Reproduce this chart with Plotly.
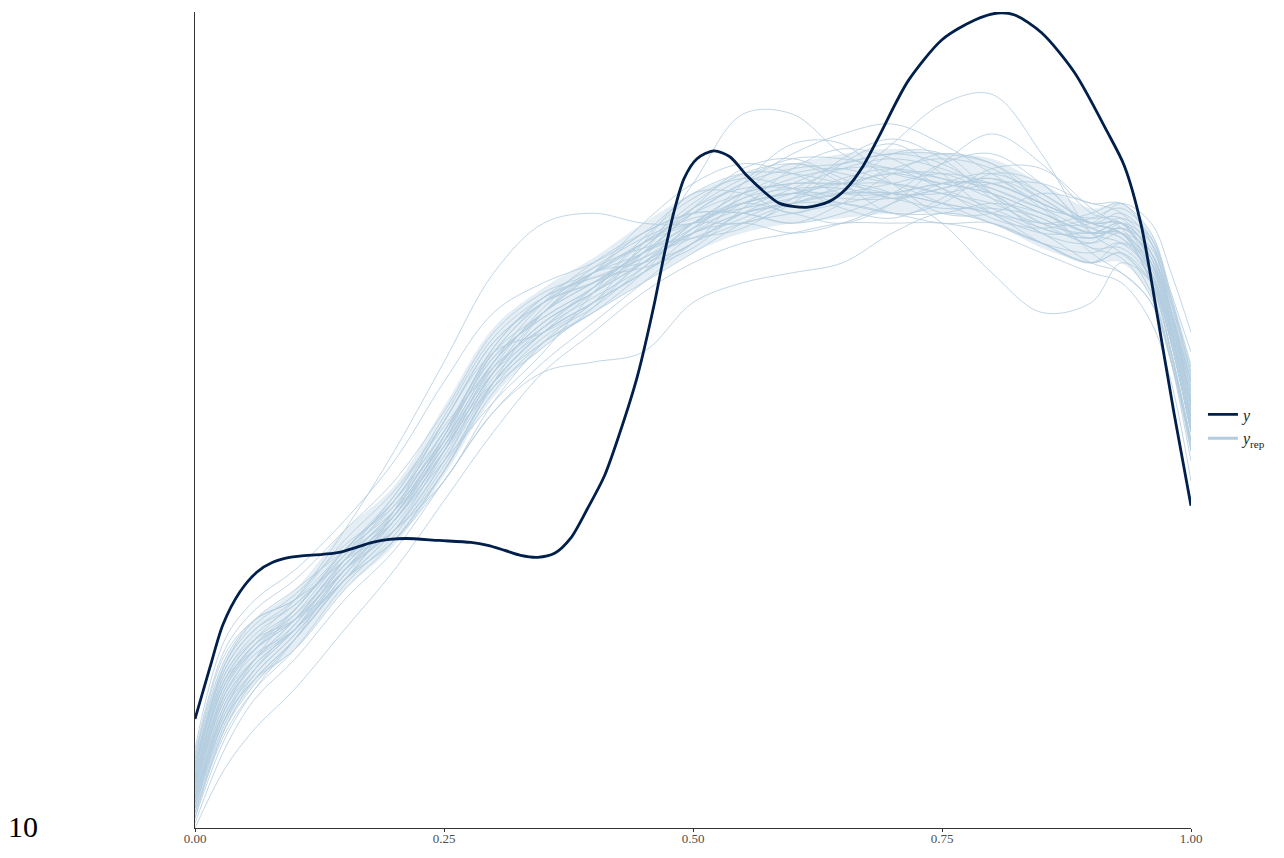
import plotly.graph_objects as go

# x knots (fraction of range) at which densities were read
x_knots = [0, .03, .06, .10, .15, .20, .25, .30, .35, .40, .45, .50, .55, .60,
           .65, .70, .75, .80, .85, .90, .93, .96, .98, 1.0]

# observed y density curve
y_x = [0.000, 0.015, 0.028, 0.045, 0.062, 0.078, 0.095, 0.128, 0.145, 0.162, 0.178,
       0.195, 0.212, 0.245, 0.277, 0.294, 0.311, 0.327, 0.344, 0.361, 0.377, 0.394,
       0.411, 0.426, 0.444, 0.461, 0.471, 0.481, 0.491, 0.504, 0.521, 0.537, 0.554,
       0.571, 0.587, 0.614, 0.637, 0.654, 0.671, 0.687, 0.704, 0.717, 0.750, 0.783,
       0.806, 0.823, 0.850, 0.883, 0.916, 0.933, 0.950, 0.966, 0.983, 1.000]
y_d = [0.220, 0.324, 0.410, 0.476, 0.516, 0.536, 0.546, 0.552, 0.556, 0.566, 0.576,
       0.582, 0.584, 0.580, 0.576, 0.570, 0.560, 0.550, 0.546, 0.554, 0.584, 0.644,
       0.710, 0.794, 0.910, 1.056, 1.156, 1.244, 1.310, 1.350, 1.366, 1.354, 1.316,
       1.284, 1.260, 1.252, 1.264, 1.290, 1.336, 1.396, 1.464, 1.510, 1.590, 1.630,
       1.644, 1.640, 1.604, 1.524, 1.404, 1.336, 1.216, 1.036, 0.836, 0.650]

# dense core of the replicated curves (lower / upper), at x_knots
core_lo = [0.03, 0.20, 0.29, 0.36, 0.48, 0.57, 0.71, 0.87, 0.97, 1.04, 1.10, 1.16, 1.20, 1.22,
           1.23, 1.24, 1.24, 1.22, 1.17, 1.14, 1.14, 1.07, 0.94, 0.76]
core_hi = [0.15, 0.34, 0.42, 0.48, 0.60, 0.69, 0.85, 1.01, 1.09, 1.15, 1.22, 1.28, 1.32, 1.34,
           1.36, 1.37, 1.36, 1.35, 1.30, 1.25, 1.26, 1.20, 1.08, 0.94]

# replicated density curves (y_rep), values at x_knots
yrep_1 = [0.02, 0.20, 0.30, 0.38, 0.50, 0.62, 0.76, 0.92, 1.02, 1.08, 1.14, 1.22, 1.28, 1.32, 1.33, 1.30, 1.26, 1.22, 1.18, 1.16, 1.18, 1.12, 0.98, 0.80]
yrep_2 = [0.12, 0.33, 0.42, 0.48, 0.56, 0.64, 0.76, 0.90, 1.00, 1.08, 1.16, 1.24, 1.30, 1.33, 1.34, 1.36, 1.34, 1.28, 1.22, 1.20, 1.22, 1.16, 1.04, 0.88]
yrep_3 = [0.06, 0.24, 0.33, 0.40, 0.52, 0.60, 0.70, 0.86, 0.98, 1.06, 1.14, 1.20, 1.22, 1.20, 1.22, 1.26, 1.30, 1.32, 1.28, 1.22, 1.20, 1.10, 0.96, 0.78]
yrep_4 = [0.15, 0.36, 0.44, 0.50, 0.60, 0.70, 0.84, 1.00, 1.08, 1.12, 1.18, 1.26, 1.32, 1.34, 1.32, 1.30, 1.28, 1.26, 1.22, 1.24, 1.26, 1.18, 1.06, 0.92]
yrep_5 = [0.04, 0.22, 0.30, 0.36, 0.48, 0.58, 0.72, 0.88, 0.98, 1.04, 1.10, 1.16, 1.22, 1.26, 1.28, 1.28, 1.26, 1.24, 1.20, 1.14, 1.12, 1.06, 0.94, 0.76]
yrep_6 = [0.10, 0.30, 0.38, 0.44, 0.56, 0.66, 0.82, 0.98, 1.06, 1.10, 1.16, 1.24, 1.30, 1.36, 1.40, 1.42, 1.38, 1.32, 1.26, 1.22, 1.20, 1.12, 1.00, 0.84]
yrep_7 = [0.08, 0.27, 0.35, 0.40, 0.52, 0.64, 0.80, 0.96, 1.04, 1.12, 1.20, 1.24, 1.24, 1.22, 1.24, 1.28, 1.34, 1.36, 1.30, 1.22, 1.24, 1.18, 1.04, 0.86]
yrep_8 = [0.01, 0.16, 0.26, 0.34, 0.46, 0.56, 0.70, 0.84, 0.94, 1.02, 1.10, 1.18, 1.24, 1.26, 1.26, 1.24, 1.22, 1.22, 1.18, 1.14, 1.16, 1.08, 0.94, 0.74]
yrep_9 = [0.14, 0.34, 0.42, 0.46, 0.56, 0.66, 0.80, 0.94, 1.04, 1.12, 1.22, 1.30, 1.34, 1.32, 1.28, 1.28, 1.30, 1.30, 1.26, 1.22, 1.22, 1.16, 1.04, 0.90]
yrep_10 = [0.07, 0.26, 0.34, 0.42, 0.54, 0.62, 0.76, 0.92, 1.02, 1.08, 1.14, 1.20, 1.26, 1.30, 1.34, 1.36, 1.36, 1.34, 1.28, 1.22, 1.20, 1.14, 1.02, 0.84]
yrep_11 = [0.11, 0.30, 0.36, 0.42, 0.52, 0.60, 0.74, 0.92, 1.04, 1.12, 1.18, 1.22, 1.26, 1.28, 1.30, 1.32, 1.32, 1.28, 1.22, 1.18, 1.20, 1.16, 1.04, 0.86]
yrep_12 = [0.05, 0.23, 0.32, 0.40, 0.54, 0.66, 0.80, 0.96, 1.06, 1.10, 1.14, 1.20, 1.24, 1.26, 1.28, 1.30, 1.32, 1.30, 1.26, 1.22, 1.22, 1.12, 0.98, 0.80]
yrep_13 = [0.09, 0.29, 0.37, 0.42, 0.52, 0.62, 0.78, 0.96, 1.06, 1.12, 1.16, 1.22, 1.28, 1.30, 1.30, 1.30, 1.28, 1.24, 1.18, 1.14, 1.18, 1.14, 1.02, 0.86]
yrep_14 = [0.13, 0.32, 0.40, 0.46, 0.58, 0.68, 0.82, 0.98, 1.06, 1.12, 1.18, 1.24, 1.28, 1.30, 1.30, 1.32, 1.30, 1.28, 1.24, 1.20, 1.22, 1.16, 1.04, 0.88]
yrep_15 = [0.03, 0.20, 0.29, 0.38, 0.50, 0.58, 0.72, 0.90, 1.00, 1.06, 1.12, 1.18, 1.22, 1.24, 1.26, 1.28, 1.30, 1.30, 1.26, 1.22, 1.22, 1.14, 1.00, 0.82]
yrep_16 = [0.10, 0.29, 0.36, 0.43, 0.55, 0.65, 0.79, 0.95, 1.03, 1.09, 1.17, 1.25, 1.29, 1.29, 1.27, 1.27, 1.29, 1.31, 1.27, 1.21, 1.19, 1.13, 1.01, 0.83]
yrep_17 = [0.04, 0.21, 0.31, 0.39, 0.51, 0.61, 0.75, 0.91, 1.01, 1.09, 1.15, 1.19, 1.23, 1.27, 1.31, 1.33, 1.31, 1.27, 1.23, 1.19, 1.21, 1.15, 1.01, 0.81]
yrep_18 = [0.12, 0.31, 0.39, 0.45, 0.55, 0.63, 0.77, 0.93, 1.05, 1.13, 1.19, 1.23, 1.25, 1.27, 1.29, 1.33, 1.35, 1.33, 1.27, 1.21, 1.19, 1.11, 0.99, 0.83]
yrep_19 = [0.06, 0.25, 0.34, 0.41, 0.53, 0.63, 0.77, 0.93, 1.01, 1.07, 1.13, 1.21, 1.27, 1.31, 1.33, 1.33, 1.29, 1.25, 1.21, 1.19, 1.21, 1.17, 1.05, 0.89]
yrep_20 = [0.08, 0.28, 0.37, 0.44, 0.56, 0.67, 0.83, 0.99, 1.07, 1.11, 1.15, 1.21, 1.25, 1.29, 1.33, 1.35, 1.33, 1.29, 1.25, 1.23, 1.23, 1.15, 1.03, 0.85]
yrep_21 = [0.03, 0.19, 0.28, 0.36, 0.49, 0.59, 0.73, 0.89, 0.99, 1.05, 1.13, 1.21, 1.27, 1.29, 1.29, 1.27, 1.25, 1.25, 1.23, 1.17, 1.15, 1.07, 0.95, 0.77]
yrep_22 = [0.13, 0.33, 0.41, 0.47, 0.57, 0.65, 0.79, 0.95, 1.03, 1.09, 1.17, 1.25, 1.31, 1.35, 1.35, 1.33, 1.31, 1.29, 1.25, 1.21, 1.23, 1.19, 1.07, 0.93]
yrep_23 = [0.10, 0.30, 0.38, 0.46, 0.60, 0.76, 0.94, 1.12, 1.22, 1.24, 1.22, 1.22, 1.26, 1.28, 1.26, 1.24, 1.24, 1.26, 1.24, 1.20, 1.20, 1.14, 1.02, 0.86]
yrep_24 = [0.06, 0.24, 0.32, 0.40, 0.52, 0.62, 0.76, 0.92, 1.02, 1.08, 1.16, 1.30, 1.44, 1.44, 1.36, 1.32, 1.30, 1.28, 1.24, 1.20, 1.20, 1.12, 0.98, 0.80]
yrep_25 = [0.09, 0.28, 0.36, 0.42, 0.54, 0.64, 0.78, 0.94, 1.04, 1.10, 1.16, 1.20, 1.24, 1.26, 1.30, 1.38, 1.46, 1.48, 1.36, 1.20, 1.16, 1.10, 0.98, 0.80]
yrep_26 = [0.05, 0.22, 0.30, 0.38, 0.50, 0.60, 0.74, 0.90, 1.00, 1.06, 1.12, 1.18, 1.24, 1.28, 1.30, 1.28, 1.22, 1.12, 1.04, 1.06, 1.14, 1.10, 0.98, 0.80]
yrep_27 = [0.07, 0.25, 0.33, 0.40, 0.50, 0.58, 0.70, 0.84, 0.92, 0.94, 0.96, 1.06, 1.10, 1.12, 1.14, 1.20, 1.24, 1.22, 1.18, 1.14, 1.16, 1.10, 0.96, 0.78]
yrep_28 = [0.00, 0.12, 0.20, 0.28, 0.40, 0.52, 0.66, 0.80, 0.92, 1.00, 1.08, 1.14, 1.18, 1.20, 1.22, 1.22, 1.22, 1.20, 1.16, 1.12, 1.10, 1.02, 0.90, 0.70]
yrep_29 = [0.16, 0.38, 0.46, 0.52, 0.62, 0.74, 0.90, 1.04, 1.10, 1.14, 1.20, 1.28, 1.32, 1.32, 1.30, 1.28, 1.28, 1.30, 1.30, 1.26, 1.26, 1.20, 1.08, 0.96]
yrep_30 = [0.08, 0.26, 0.34, 0.42, 0.54, 0.64, 0.78, 0.94, 1.04, 1.10, 1.16, 1.22, 1.26, 1.28, 1.28, 1.28, 1.26, 1.24, 1.22, 1.22, 1.26, 1.22, 1.12, 1.00]
yrep_31 = [0.05, 0.24, 0.34, 0.44, 0.54, 0.60, 0.72, 0.90, 1.04, 1.12, 1.14, 1.18, 1.28, 1.34, 1.30, 1.24, 1.26, 1.32, 1.30, 1.20, 1.18, 1.12, 1.00, 0.82]
yrep_32 = [0.11, 0.31, 0.38, 0.42, 0.50, 0.64, 0.82, 0.96, 1.00, 1.06, 1.18, 1.28, 1.28, 1.24, 1.28, 1.36, 1.36, 1.28, 1.20, 1.18, 1.22, 1.18, 1.06, 0.90]
yrep_33 = [0.02, 0.18, 0.28, 0.38, 0.52, 0.62, 0.74, 0.86, 0.96, 1.08, 1.18, 1.22, 1.22, 1.26, 1.34, 1.38, 1.32, 1.24, 1.20, 1.20, 1.20, 1.10, 0.96, 0.76]
yrep_34 = [0.14, 0.35, 0.42, 0.46, 0.54, 0.64, 0.78, 0.92, 1.00, 1.06, 1.12, 1.20, 1.30, 1.38, 1.38, 1.30, 1.24, 1.24, 1.28, 1.26, 1.24, 1.16, 1.04, 0.90]
yrep_35 = [0.07, 0.27, 0.36, 0.44, 0.56, 0.66, 0.78, 0.90, 0.98, 1.04, 1.12, 1.22, 1.26, 1.24, 1.22, 1.26, 1.34, 1.40, 1.34, 1.24, 1.22, 1.14, 1.00, 0.82]
yrep_36 = [0.09, 0.27, 0.34, 0.40, 0.50, 0.60, 0.76, 0.94, 1.06, 1.14, 1.20, 1.24, 1.24, 1.22, 1.26, 1.32, 1.36, 1.34, 1.26, 1.16, 1.12, 1.06, 0.94, 0.78]
yrep_37 = [0.04, 0.22, 0.32, 0.41, 0.53, 0.63, 0.79, 0.97, 1.07, 1.13, 1.17, 1.19, 1.21, 1.27, 1.35, 1.39, 1.35, 1.27, 1.21, 1.19, 1.21, 1.15, 1.03, 0.87]
yrep_38 = [0.12, 0.32, 0.40, 0.45, 0.55, 0.67, 0.81, 0.93, 1.01, 1.09, 1.19, 1.27, 1.31, 1.29, 1.25, 1.23, 1.27, 1.33, 1.33, 1.25, 1.21, 1.13, 1.01, 0.85]
yrep_39 = [0.06, 0.23, 0.31, 0.39, 0.51, 0.63, 0.77, 0.89, 0.97, 1.05, 1.15, 1.25, 1.33, 1.35, 1.31, 1.27, 1.29, 1.31, 1.25, 1.17, 1.17, 1.11, 0.99, 0.81]
yrep_40 = [0.10, 0.29, 0.37, 0.43, 0.53, 0.63, 0.79, 0.97, 1.07, 1.11, 1.13, 1.17, 1.25, 1.33, 1.37, 1.35, 1.29, 1.23, 1.21, 1.23, 1.25, 1.19, 1.07, 0.91]

yrep_curves = [yrep_1, yrep_2, yrep_3, yrep_4, yrep_5, yrep_6, yrep_7, yrep_8, yrep_9, yrep_10,
               yrep_11, yrep_12, yrep_13, yrep_14, yrep_15, yrep_16, yrep_17, yrep_18, yrep_19, yrep_20,
               yrep_21, yrep_22, yrep_23, yrep_24, yrep_25, yrep_26, yrep_27, yrep_28, yrep_29, yrep_30,
               yrep_31, yrep_32, yrep_33, yrep_34, yrep_35, yrep_36, yrep_37, yrep_38, yrep_39, yrep_40]

DARK = "#011f4b"
LIGHT = "#b3cde0"
SERIF = "Liberation Serif, Times New Roman, serif"

fig = go.Figure()

# dense core band
fig.add_trace(go.Scatter(x=x_knots, y=core_lo, mode="lines",
                         line=dict(width=0, shape="spline", smoothing=1.0),
                         showlegend=False, hoverinfo="skip"))
fig.add_trace(go.Scatter(x=x_knots, y=core_hi, mode="lines", fill="tonexty",
                         fillcolor="rgba(179,205,224,0.35)",
                         line=dict(width=0, shape="spline", smoothing=1.0),
                         showlegend=False, hoverinfo="skip"))

for c in yrep_curves:
    fig.add_trace(go.Scatter(
        x=x_knots, y=c, mode="lines",
        line=dict(color=LIGHT, width=1, shape="spline", smoothing=1.0),
        opacity=0.8, showlegend=False, hoverinfo="skip"))

fig.add_trace(go.Scatter(
    x=y_x, y=y_d, mode="lines",
    line=dict(color=DARK, width=2.8, shape="spline", smoothing=0.8),
    name="<i>y</i>"))

# legend entry for y_rep (drawn thicker, as in the reference key)
fig.add_trace(go.Scatter(
    x=[None], y=[None], mode="lines",
    line=dict(color=LIGHT, width=3),
    name="<i>y</i><sub>rep</sub>"))

# page body keeps its default 8px margin, so the figure is the window minus 16px
fig.update_layout(
    width=1268, height=842,
    margin=dict(l=187, r=77, t=4, b=13),
    paper_bgcolor="white", plot_bgcolor="white",
    font=dict(family=SERIF, color="#333333"),
    showlegend=True,
    legend=dict(x=1.012, xanchor="left", y=0.492, yanchor="middle",
                traceorder="normal",
                font=dict(family=SERIF, size=16, color="#222222"),
                bgcolor="rgba(0,0,0,0)", itemwidth=30, tracegroupgap=0),
    xaxis=dict(range=[0, 1], tickvals=[0, 0.25, 0.5, 0.75, 1.0],
               ticktext=["0.00", "0.25", "0.50", "0.75", "1.00"],
               showgrid=False, zeroline=False, showline=True, linecolor="#333333",
               linewidth=1, ticks="outside", ticklen=3, tickcolor="#333333",
               ticklabelstandoff=-5,
               tickfont=dict(family=SERIF, size=13, color="#4d4d4d")),
    yaxis=dict(range=[0, 1.646], showgrid=False, zeroline=False, showline=True,
               linecolor="#333333", linewidth=1, showticklabels=False, ticks=""),
    annotations=[dict(text="10", xref="paper", yref="paper", x=-0.190, y=0.024,
                      xanchor="left", yanchor="top", showarrow=False,
                      font=dict(family=SERIF, size=30, color="#000000"))],
)

fig.write_html("out.html", config={"displayModeBar": False})
